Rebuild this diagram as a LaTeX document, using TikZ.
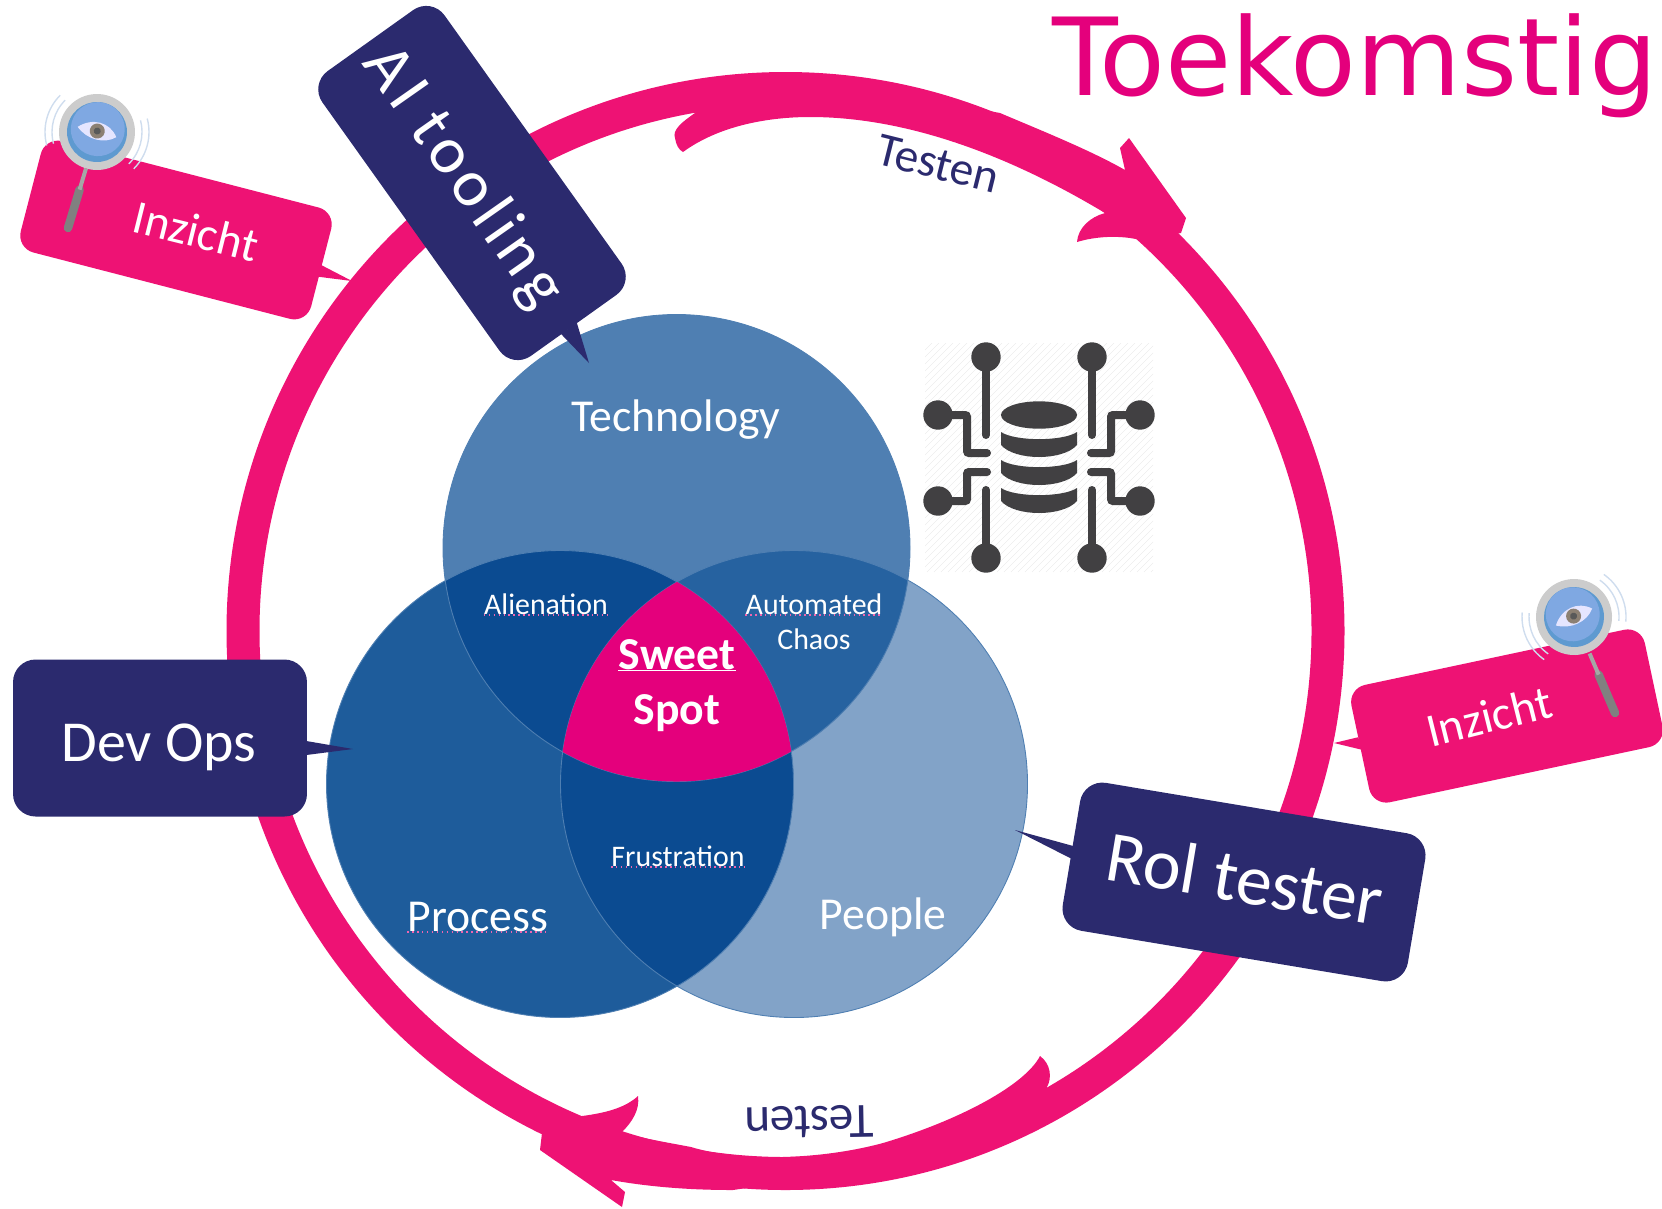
\documentclass[tikz,border=0pt]{standalone}
\usepackage{fontspec}
\setmainfont{Carlito}
\newfontfamily\titlefont{DejaVu Sans}
\usetikzlibrary{calc}

\definecolor{ringpink}{HTML}{EE1274}
\definecolor{sweetpink}{HTML}{E4007C}
\definecolor{navybox}{HTML}{2B2A6E}
\definecolor{techblue}{HTML}{4F7FB2}
\definecolor{peopleblue}{HTML}{82A3C8}
\definecolor{processblue}{HTML}{1E5C9B}
\definecolor{overlapdark}{HTML}{0B4B91}
\definecolor{overlapmid}{HTML}{2662A0}
\definecolor{iconcol}{HTML}{414042}
\definecolor{lensblue}{HTML}{7FA8E2}
\definecolor{lensedge}{HTML}{5E9AD0}
\definecolor{ripplecol}{HTML}{CFDDEE}

\tikzset{
	navycall/.style={fill=navybox,text=white,rounded corners=0.45cm,inner sep=0pt},
	pinkcall/.style={fill=ringpink,text=white,rounded corners=0.35cm,inner sep=0pt},
	vennsmall/.style={text=white,inner sep=0pt,font=\fontsize{17}{19}\selectfont},
	vennbig/.style={text=white,inner sep=0pt,font=\fontsize{26}{30}\selectfont},
	sweettext/.style={text=white,inner sep=0pt,font=\fontsize{26}{29}\selectfont\bfseries},
	spell/.style={sweetpink!60!white,line width=0.8pt,dotted},
	pinline/.style={iconcol,line width=0.16cm,line cap=round,rounded corners=0.04cm},
	ripple/.style={ripplecol,line width=0.8pt}
}

\begin{document}
\begin{tikzpicture}[x=0.02cm,y=-0.02cm]
	\useasboundingbox (0,0) rectangle (1662,1208);
	
	\coordinate (c) at (785.5,631);
	\draw[ringpink,line width=0.66cm] (c) circle [radius=542.5];
	
	\fill[ringpink] (700,100) -- (695,113) .. controls (682,122) and (672,130) .. (675,138)
		.. controls (676,145) and (679,150) .. (683,152)
		.. controls (720,125) and (770,117) .. (810,117)
		.. controls (900,117) and (1000,150) .. (1105,213)
		.. controls (1090,217) and (1078,228) .. (1077,242)
		.. controls (1100,235) and (1125,236) .. (1140,240)
		-- (1181,233) -- (1186,218) -- (1129,138) -- (1120,148) -- (1125,170)
		.. controls (1090,150) and (1040,130) .. (1000,113) -- (850,85) -- cycle;
	\fill[ringpink] (1047,1087) .. controls (1052,1078) and (1051,1064) .. (1040,1056)
		.. controls (1025,1085) and (960,1120) .. (883,1143)
		.. controls (820,1160) and (740,1162) .. (691,1147)
		.. controls (665,1142) and (640,1138) .. (622,1132)
		.. controls (632,1122) and (640,1110) .. (638,1096)
		.. controls (625,1108) and (605,1113) .. (582,1116)
		-- (542,1133) -- (540,1150) -- (622,1207) -- (625,1192) -- (611,1180)
		.. controls (650,1187) and (690,1190) .. (733,1190)
		-- (900,1165) -- (1047,1100) -- cycle;
	
	% venn
	\coordinate (tech) at (676.5,548);
	\coordinate (proc) at (560,784);
	\coordinate (peop) at (794,784);
	\fill[peopleblue] (peop) circle [radius=233.5];
	\fill[techblue] (tech) circle [radius=233.5];
	\fill[processblue] (proc) circle [radius=233.5];
	\begin{scope}
		\clip (tech) circle [radius=233.5];
		\fill[overlapmid] (peop) circle [radius=233.5];
		\fill[overlapdark] (proc) circle [radius=233.5];
	\end{scope}
	\begin{scope}
		\clip (proc) circle [radius=233.5];
		\fill[overlapdark] (peop) circle [radius=233.5];
	\end{scope}
	\foreach \v in {tech,proc,peop} {
		\draw[techblue,line width=0.5pt] (\v) circle [radius=233.5];
	}
	\begin{scope}
		\clip (tech) circle [radius=233.5];
		\clip (proc) circle [radius=233.5];
		\fill[sweetpink] (peop) circle [radius=233.5];
	\end{scope}
	
	\node[vennbig] (technology) at (676,420) {Technology};
	\node[vennbig] (process) at (478,917) {Process};
	\node[vennbig] (people) at (883,917) {People};
	\node[vennsmall] (alienation) at (546,604) {Alienation};
	\node[vennsmall] (automated) at (814,604) {Automated};
	\node[vennsmall] (chaos) at (814,639) {Chaos};
	\node[vennsmall] (frustration) at (678,856) {Frustration};
	\node[sweettext] (sweet) at (677,655) {Sweet};
	\node[sweettext] (spot) at (677,713) {Spot};
	\foreach \w in {alienation,automated,frustration,process} {
		\draw[spell] (\w.south west) -- (\w.south east);
	}
	\draw[white,line width=0.6pt] (sweet.south west) -- (sweet.south east);
	
	% icon
	\begin{scope}
		\clip (925,343) rectangle (1153,572);
		\foreach \h in {-229,-222,...,229} {
			\draw[black!7,line width=0.3pt] ({925+\h},572) -- ({1154+\h},343);
		}
	\end{scope}
	\fill[iconcol] (1039,415) ellipse [x radius=38,y radius=13.7];
	\foreach \t in {432,460,488} {
		\fill[iconcol] (1001,\t) .. controls (1015,\t+9.5) and (1063,\t+9.5) .. (1077,\t)
			-- (1077,\t+13) .. controls (1063,\t+29) and (1015,\t+29) .. (1001,\t+13) -- cycle;
	}
	\foreach \sx in {-1,1} {
		\draw[pinline] ({1039+\sx*53},357) -- ({1039+\sx*53},435);
		\draw[pinline] ({1039+\sx*53},558) -- ({1039+\sx*53},490);
		\draw[pinline] ({1039+\sx*100},415) -- ({1039+\sx*72},415) -- ({1039+\sx*72},453) -- ({1039+\sx*52},453);
		\draw[pinline] ({1039+\sx*100},501) -- ({1039+\sx*72},501) -- ({1039+\sx*72},472) -- ({1039+\sx*52},472);
		\foreach \py in {357,558} {
			\fill[iconcol] ({1039+\sx*53},\py) circle [radius=14.7];
		}
		\foreach \py in {415,501} {
			\fill[iconcol] ({1039+\sx*101},\py) circle [radius=14.7];
		}
	}
	
	% callouts
	\node[pinkcall,minimum width=6cm,minimum height=2.3cm,rotate=-14.5] (inzichtl) at (176,230) {};
	\node[pinkcall,minimum width=6cm,minimum height=2.4cm,rotate=12] (inzichtr) at (1507,716) {};
	\node[navycall,minimum width=7cm,minimum height=3cm,rotate=-54.5] (aitool) at (472,183) {};
	\node[navycall,minimum width=7cm,minimum height=3cm,rotate=-9.5] (roltest) at (1244,882) {};
	\node[navycall,minimum width=5.88cm,minimum height=3.14cm] (devops) at (160,738) {};
	
	\coordinate (tipil) at (352,281);
	\coordinate (tipir) at (1334,743);
	\coordinate (tipai) at (589,363);
	\coordinate (tiprt) at (1015,830);
	\coordinate (tipdo) at (353,749);
	\fill[ringpink] ($(inzichtl.east)+(-3,-4)$) -- (tipil) -- ($(inzichtl.east)+(-4,9)$) -- cycle;
	\fill[ringpink] ($(inzichtr.west)+(-2,-10)$) -- (tipir) -- ($(inzichtr.west)+(4,3)$) -- cycle;
	\fill[navybox] ($(aitool.east)+(-13,8)$) -- (tipai) -- ($(aitool.east)+(3,-3)$) -- cycle;
	\fill[navybox] ($(roltest.west)+(6,-6)$) -- (tiprt) -- ($(roltest.west)+(3,7)$) -- cycle;
	\fill[navybox] ($(devops.east)+(-1,3)$) -- (tipdo) -- ($(devops.east)+(-1,17)$) -- cycle;
	
	\node[text=white,rotate=-14,font=\fontsize{27}{30}\selectfont] (inzichtltext) at (196,231) {Inzicht};
	\node[text=white,rotate=14,font=\fontsize{27}{30}\selectfont] (inzichtrtext) at (1489,716) {Inzicht};
	\node[text=white,rotate=-55,font=\fontsize{38}{46}\selectfont\addfontfeatures{LetterSpace=8}] (aitext) at (463,177) {AI tooling};
	\node[text=white,rotate=-9.5,font=\fontsize{41}{46}\selectfont] (roltext) at (1245,878) {Rol tester};
	\node[text=white,font=\fontsize{33}{38}\selectfont] (devtext) at (159,747) {Dev Ops};
	\node[text=navybox,rotate=-14,font=\fontsize{27}{30}\selectfont] (testentop) at (938,164) {Testen};
	\node[text=navybox,rotate=181,font=\fontsize{28}{30}\selectfont] (testenbot) at (809,1122) {Testen};
	\node[text=sweetpink,anchor=base east,inner sep=0pt,font=\titlefont\fontsize{61.3}{66}\selectfont] (title) at (1658,95) {Toekomstig};
	
	% magnifiers
	\foreach \lx/\ly/\hx/\hy/\ang in {97/132/-29/96/-15, 1574/617/41/96/25} {
		\draw[gray,line width=0.17cm,line cap=round] ($(\lx,\ly)+0.6*(\hx,\hy)$) -- ($(\lx,\ly)+(\hx,\hy)$);
		\draw[gray!70,line width=0.08cm] ($(\lx,\ly)+0.38*(\hx,\hy)$) -- ($(\lx,\ly)+0.6*(\hx,\hy)$);
		\begin{scope}[shift={(\lx,\ly)},rotate=\ang]
			\foreach \rr in {45,52} {
				\draw[ripple] (-30:\rr) arc [start angle=-30,end angle=30,radius=\rr];
				\draw[ripple] (150:\rr) arc [start angle=150,end angle=210,radius=\rr];
			}
			\fill[gray!40] (0,0) circle [radius=38];
			\fill[lensedge] (0,0) circle [radius=30];
			\fill[lensblue] (0,-3) circle [radius=27];
			\fill[white!90!blue] (-20,0) .. controls (-8,-13) and (10,-13) .. (20,0)
				.. controls (10,10) and (-8,10) .. (-20,0) -- cycle;
			\fill[gray!80!brown] (0,-1) circle [radius=7.5];
			\fill[black!65] (0,-1) circle [radius=3.5];
		\end{scope}
	}
	
\end{tikzpicture}
\end{document}
